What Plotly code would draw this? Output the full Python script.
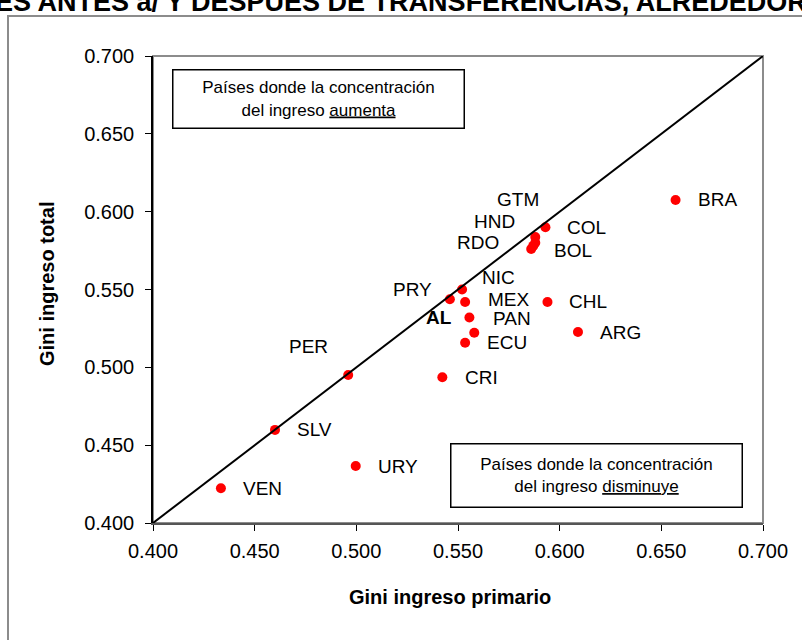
import plotly.graph_objects as go

# ---- data ----
countries = ["BRA", "COL", "GTM", "HND", "RDO", "BOL", "NIC", "PRY", "MEX", "PAN",
             "AL", "ECU", "CHL", "ARG", "CRI", "PER", "SLV", "URY", "VEN"]
gini_primario = [0.657, 0.593, 0.588, 0.588, 0.587, 0.586, 0.552, 0.546, 0.5535, 0.5556,
                 0.558, 0.5535, 0.594, 0.609, 0.5423, 0.496, 0.460, 0.4997, 0.4334]
gini_total = [0.6075, 0.590, 0.5837, 0.580, 0.578, 0.576, 0.550, 0.5437, 0.542, 0.532,
              0.5222, 0.5158, 0.542, 0.5227, 0.4936, 0.4951, 0.4598, 0.4366, 0.4223]
axis_range = [0.400, 0.700]
tick_vals = [0.400, 0.450, 0.500, 0.550, 0.600, 0.650, 0.700]
tick_text = ["0.400", "0.450", "0.500", "0.550", "0.600", "0.650", "0.700"]

# label placement (styling): anchor, xshift, yshift in px
label_pos = {
    "BRA": ("left", 20, 0), "COL": ("left", 20, 0), "BOL": ("left", 21, -1),
    "CHL": ("left", 20, 0), "ARG": ("left", 20, 0), "MEX": ("left", 21, 2),
    "PAN": ("left", 22, -1), "ECU": ("left", 20, 0), "CRI": ("left", 21, 0),
    "SLV": ("left", 20, 0), "URY": ("left", 20, 0), "VEN": ("left", 20, 0),
    "PER": ("center", -40, 28), "NIC": ("left", 18, 12), "PRY": ("right", -16, 10),
    "AL": ("right", -20, 15), "GTM": ("center", -17, 38), "HND": ("center", -41, 21),
    "RDO": ("center", -55, 3),
}

FONT = "Arial, Liberation Sans, sans-serif"

fig = go.Figure()

fig.add_trace(go.Scatter(
    x=gini_primario, y=gini_total, mode="markers",
    marker=dict(color="#ff0000", size=10, line=dict(width=0)),
    text=countries, hoverinfo="text+x+y", showlegend=False,
))

annotations = []
for c, xv, yv in zip(countries, gini_primario, gini_total):
    anc, dx, dy = label_pos[c]
    annotations.append(dict(
        x=xv, y=yv, xref="x", yref="y", text=("<b>%s</b>" % c) if c == "AL" else c,
        showarrow=False, xanchor=anc, yanchor="middle", xshift=dx, yshift=dy,
        font=dict(family=FONT, size=19, color="black"),
    ))

# plot area px: x 153..763, y 56..523
def px_x(p):
    return (p - 153) / 610.0

def px_y(p):
    return (523 - p) / 467.0

annotations += [
    dict(x=px_x(318), y=px_y(99), xref="paper", yref="paper", showarrow=False,
         text="Países donde la concentración<br>del ingreso <u>aumenta</u>",
         font=dict(family=FONT, size=17, color="black"), align="center",
         bordercolor="black", borderwidth=1.5, bgcolor="white",
         width=288, height=55, xanchor="center", yanchor="middle"),
    dict(x=px_x(596), y=px_y(475.5), xref="paper", yref="paper", showarrow=False,
         text="Países donde la concentración<br>del ingreso <u>disminuye</u>",
         font=dict(family=FONT, size=17, color="black"), align="center",
         bordercolor="black", borderwidth=1.5, bgcolor="white",
         width=288, height=60, xanchor="center", yanchor="middle"),
    dict(x=px_x(47), y=px_y(284), xref="paper", yref="paper", showarrow=False,
         text="<b>Gini ingreso total</b>", textangle=-90,
         font=dict(family=FONT, size=20, color="black"),
         xanchor="center", yanchor="middle"),
    dict(x=px_x(450), y=px_y(597), xref="paper", yref="paper", showarrow=False,
         text="<b>Gini ingreso primario</b>",
         font=dict(family=FONT, size=20, color="black"),
         xanchor="center", yanchor="middle"),
    dict(x=px_x(401), y=px_y(2), xref="paper", yref="paper", showarrow=False,
         text="<b>ES ANTES a/ Y DESPUES DE TRANSFERENCIAS, ALREDEDOR</b>",
         font=dict(family=FONT, size=27, color="black"),
         xanchor="center", yanchor="middle"),
]

shapes = [
    # outer frame
    dict(type="rect", xref="paper", yref="paper", x0=px_x(8), x1=px_x(830),
         y0=px_y(660), y1=px_y(16), line=dict(color="#8c8c8c", width=2),
         fillcolor="rgba(0,0,0,0)", layer="below"),
    # plot area border
    dict(type="rect", xref="paper", yref="paper", x0=0, x1=1, y0=0, y1=1,
         line=dict(color="#8c8c8c", width=2), fillcolor="rgba(0,0,0,0)", layer="below"),
    # 45 degree line
    dict(type="line", xref="x", yref="y", x0=axis_range[0], y0=axis_range[0],
         x1=axis_range[1], y1=axis_range[1], line=dict(color="black", width=2)),
]

fig.update_layout(
    width=802, height=640,
    margin=dict(l=153, r=39, t=56, b=117),
    paper_bgcolor="white", plot_bgcolor="white",
    annotations=annotations, shapes=shapes,
    font=dict(family=FONT, color="black"),
    xaxis=dict(range=axis_range, tickvals=tick_vals, ticktext=tick_text,
               showgrid=False, zeroline=False, showline=True, linecolor="#555555",
               linewidth=1.5, ticks="outside", ticklen=6, tickcolor="black",
               ticklabelstandoff=3,
               tickfont=dict(family=FONT, size=20, color="black")),
    yaxis=dict(range=axis_range, tickvals=tick_vals, ticktext=tick_text,
               showgrid=False, zeroline=False, showline=True, linecolor="black",
               linewidth=1.5, ticks="outside", ticklen=6, tickcolor="black",
               ticklabelstandoff=7,
               tickfont=dict(family=FONT, size=20, color="black")),
)

fig.write_html("out.html", config={"displayModeBar": False},
               post_script="document.body.style.margin='0';document.body.style.overflow='hidden';")
